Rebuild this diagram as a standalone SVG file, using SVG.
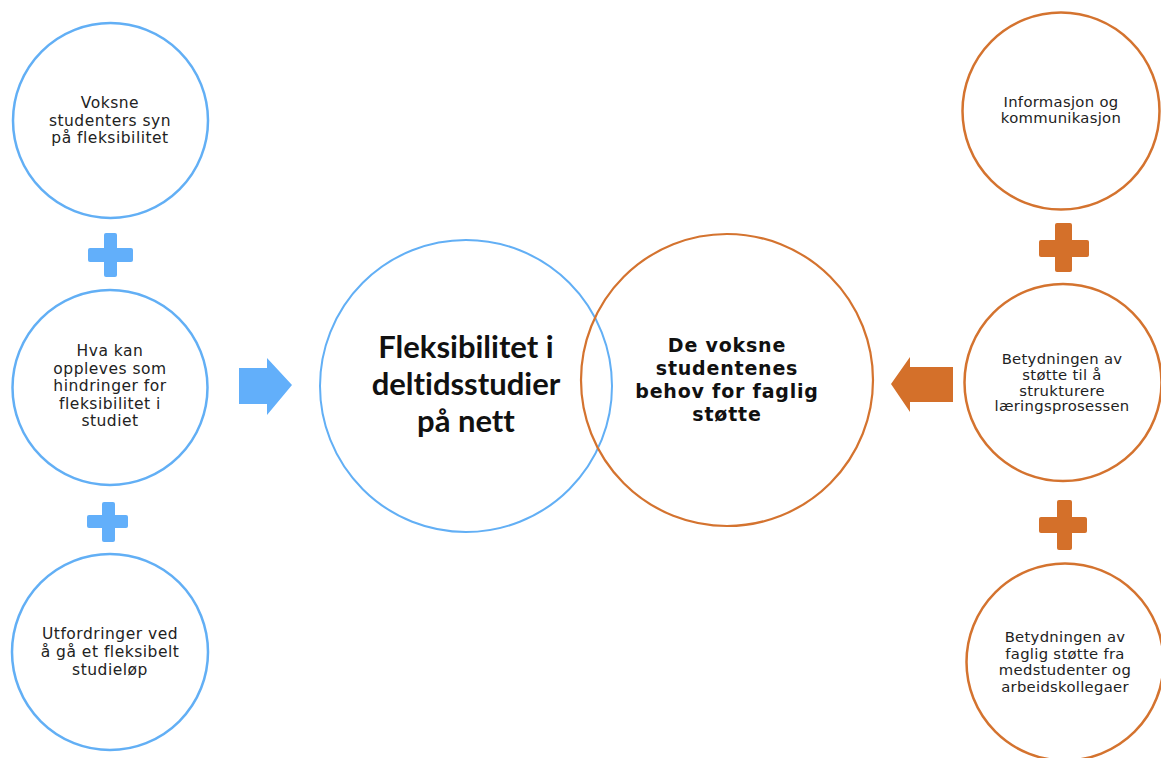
<svg xmlns="http://www.w3.org/2000/svg" width="1161" height="758" viewBox="0 0 1161 758">
<style>
.bc{fill:#ffffff;stroke:#62aff5;stroke-width:2.5}
.oc{fill:#ffffff;stroke:#d4732f;stroke-width:2.5}
.bcc{fill:none;stroke:#62aff5;stroke-width:2}
.occ{fill:none;stroke:#d4732f;stroke-width:2.2}
.bf{fill:#62affa}
.of{fill:#d4702a}
.sl{font-family:"DejaVu Sans",Verdana,sans-serif;font-size:15.5px;fill:#222;text-anchor:middle;letter-spacing:0.5px}
.sr{font-family:"DejaVu Sans",Verdana,sans-serif;font-size:14.8px;fill:#222;text-anchor:middle;letter-spacing:0.3px}
.big{font-family:Lato,"Liberation Sans",sans-serif;font-weight:bold;font-size:31px;fill:#111;text-anchor:middle;font-variant-ligatures:none}
.ob{font-family:"DejaVu Sans",Verdana,sans-serif;font-weight:bold;font-size:19px;fill:#111;text-anchor:middle;letter-spacing:0.8px}
</style>
<rect width="1161" height="758" fill="#ffffff"/>
<g id="connectors">
<g id="plus-b1" class="bf"><rect x="88" y="248" width="45" height="14" rx="2"/><rect x="104" y="233" width="13" height="44" rx="2"/></g>
<g id="plus-b2" class="bf"><rect x="87" y="515" width="41" height="13" rx="2"/><rect x="102" y="502" width="13" height="40" rx="2"/></g>
<g id="plus-o1" class="of"><rect x="1039" y="240" width="50" height="17" rx="2"/><rect x="1055" y="223" width="17" height="49" rx="2"/></g>
<g id="plus-o2" class="of"><rect x="1039" y="517" width="48" height="16" rx="2"/><rect x="1057" y="500" width="15" height="50" rx="2"/></g>
<polygon id="arrow-b" class="bf" points="239,368 267,368 267,358 292,385 267,415 267,404 239,404"/>
<polygon id="arrow-o" class="of" points="953,367 910,367 910,357 891,384 910,412 910,402 953,402"/>
</g>
<g id="n1"><circle class="bc" cx="110.5" cy="120.5" r="97.5"/>
<text class="sl" x="110" y="108">Voksne</text><text class="sl" x="110" y="125.5">studenters syn</text><text class="sl" x="110" y="143">på fleksibilitet</text></g>
<g id="n2"><circle class="bc" cx="110" cy="387.5" r="97.5"/>
<text class="sl" x="110" y="356">Hva kan</text><text class="sl" x="110" y="373.5">oppleves som</text><text class="sl" x="110" y="391">hindringer for</text><text class="sl" x="110" y="408.5">fleksibilitet i</text><text class="sl" x="110" y="426">studiet</text></g>
<g id="n3"><circle class="bc" cx="110" cy="652" r="98"/>
<text class="sl" x="110" y="639">Utfordringer ved</text><text class="sl" x="110" y="657">å gå et fleksibelt</text><text class="sl" x="110" y="675">studieløp</text></g>
<g id="center-blue"><circle class="bcc" cx="466" cy="386" r="146"/>
<text class="big" x="466" y="358">Fleksibilitet i</text><text class="big" x="466" y="395">deltidsstudier</text><text class="big" x="466" y="432">på nett</text></g>
<g id="center-orange"><circle class="occ" cx="727" cy="380" r="146"/>
<text class="ob" x="727" y="352">De voksne</text><text class="ob" x="727" y="375">studentenes</text><text class="ob" x="727" y="398">behov for faglig</text><text class="ob" x="727" y="421">støtte</text></g>
<g id="r1"><circle class="oc" cx="1061" cy="111" r="98.5"/>
<text class="sr" x="1061" y="107">Informasjon og</text><text class="sr" x="1061" y="123">kommunikasjon</text></g>
<g id="r2"><circle class="oc" cx="1063" cy="382.5" r="98.5"/>
<text class="sr" x="1062" y="364">Betydningen av</text><text class="sr" x="1062" y="380">støtte til å</text><text class="sr" x="1062" y="395.5">strukturere</text><text class="sr" x="1062" y="411">læringsprosessen</text></g>
<g id="r3"><circle class="oc" cx="1065" cy="662" r="98.5"/>
<text class="sr" x="1065" y="642">Betydningen av</text><text class="sr" x="1065" y="658.5">faglig støtte fra</text><text class="sr" x="1065" y="675">medstudenter og</text><text class="sr" x="1065" y="691.5">arbeidskollegaer</text></g>
</svg>
